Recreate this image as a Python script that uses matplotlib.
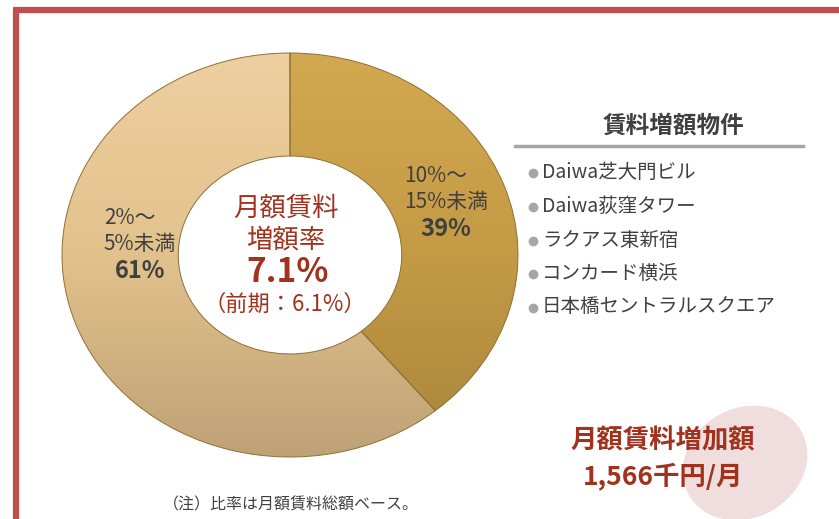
import numpy as np
import matplotlib.pyplot as plt
from matplotlib.patches import Ellipse
from matplotlib.colors import LinearSegmentedColormap

plt.rcParams['font.family'] = ['Noto Sans CJK JP', 'DejaVu Sans']

# data
bands = ['10%～\n15%未満', '2%～\n5%未満']
shares = [39, 61]
rate_now = 7.1
rate_prev = 6.1
properties = ['Daiwa芝大門ビル', 'Daiwa荻窪タワー', 'ラクアス東新宿',
              'コンカード横浜', '日本橋セントラルスクエア']
increase_total = '1,566千円/月'

# top -> bottom shading for each slice
slice_shades = [['#D2A850', '#C49A45', '#A9863C'],
                ['#EECFA0', '#E2C28C', '#BEA276']]

W, H = 839, 519
fig = plt.figure(figsize=(W / 100, H / 100), dpi=100)

# background axes in pixel coordinates
bg = fig.add_axes([0, 0, 1, 1])
bg.set_xlim(0, W)
bg.set_ylim(H, 0)
bg.axis('off')

# red frame
bg.plot([16, 16], [10, H + 5], color='#C0504D', lw=4.5, solid_capstyle='butt')
bg.plot([13, W + 5], [10, 10], color='#C0504D', lw=4.5, solid_capstyle='butt')

# increase highlight (behind text)
bg.add_patch(Ellipse((745, 463), 128, 108, angle=-30, color='#F0DEDE', zorder=0))

# donut (slightly flattened, as in the original)
cx, cy, rx, ry = 290, 255, 228, 202
pax = fig.add_axes([(cx - rx) / W, (H - cy - ry) / H, 2 * rx / W, 2 * ry / H])
wedges, _ = pax.pie(shares, colors=['none', 'none'], startangle=90, counterclock=False,
                    radius=1, wedgeprops=dict(width=0.51, edgecolor='#8E6F35', linewidth=0.7))
pax.set_aspect('auto')
pax.set_xlim(-1, 1)
pax.set_ylim(-1, 1)
grad = np.linspace(0, 1, 256).reshape(-1, 1)
for w, shades in zip(wedges, slice_shades):
    cmap = LinearSegmentedColormap.from_list('s', shades)
    im = pax.imshow(grad, extent=[-1, 1, -1, 1], origin='upper', cmap=cmap,
                    aspect='auto', zorder=0)
    im.set_clip_path(w)
pax.set_xlim(-1, 1)
pax.set_ylim(-1, 1)
pax.axis('off')

# overlay axes for text
fg = fig.add_axes([0, 0, 1, 1])
fg.set_xlim(0, W)
fg.set_ylim(H, 0)
fg.axis('off')

dark = '#404040'
red = '#A0321E'

# slice labels
hi_lines = bands[0].split('\n')
lo_lines = bands[1].split('\n')
fg.text(436, 176, hi_lines[0], fontsize=15, color=dark, ha='center', va='center')
fg.text(446, 202, hi_lines[1], fontsize=15, color=dark, ha='center', va='center')
fg.text(446, 229, f'{shares[0]}%', fontsize=17, color=dark, weight='bold', ha='center', va='center')
fg.text(130, 218, lo_lines[0], fontsize=15, color=dark, ha='center', va='center')
fg.text(140, 244, lo_lines[1], fontsize=15, color=dark, ha='center', va='center')
fg.text(140, 271, f'{shares[1]}%', fontsize=17, color=dark, weight='bold', ha='center', va='center')

# centre text
fg.text(286, 208, '月額賃料', fontsize=19, color=red, ha='center', va='center')
fg.text(286, 240, '増額率', fontsize=19, color=red, ha='center', va='center')
fg.text(288, 272, f'{rate_now}%', fontsize=24, color=red, weight='bold', ha='center', va='center')
fg.text(285, 304, f'（前期：{rate_prev}%）', fontsize=16, color=red, ha='center', va='center')

# property list
fg.text(674, 126, '賃料増額物件', fontsize=17, color=dark, weight='bold', ha='center', va='center')
fg.plot([515, 803], [146, 146], color='#A6A6A6', lw=2.5)
ys = [172, 206, 240, 273, 307]
for y, name in zip(ys, properties):
    fg.plot(533, y + 1, 'o', color='#A6A6A6', ms=6)
    fg.text(542, y, name, fontsize=14, color=dark, ha='left', va='center')

# increase total
fg.text(663, 441, '月額賃料増加額', fontsize=19, color=red, weight='bold', ha='center', va='center')
fg.text(663, 476, increase_total, fontsize=19, color=red, weight='bold', ha='center', va='center')

# note
fg.text(291, 505, '（注）比率は月額賃料総額ベース。', fontsize=11.5, color=dark, ha='center', va='center')

fig.savefig('out.png', dpi=100)
